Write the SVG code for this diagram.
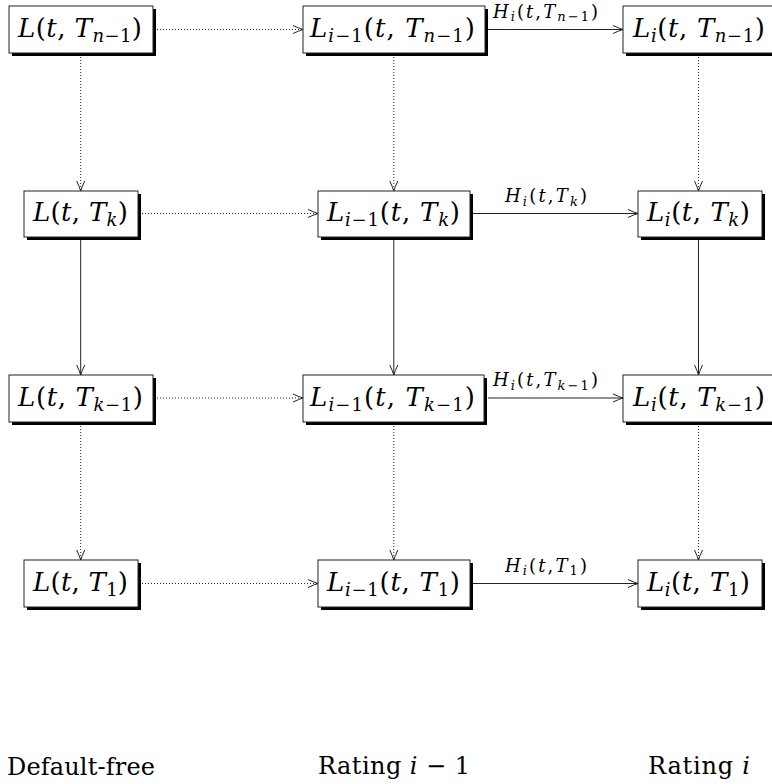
<svg xmlns="http://www.w3.org/2000/svg" width="772" height="784" viewBox="0 0 772 784">
<style>
.m{font-family:"DejaVu Serif","Liberation Serif",serif;font-size:26px;fill:#000}
.i{font-style:italic}
.s{font-size:18px}
.lab{font-size:18px}
.ls{font-size:13px}
.bl{font-size:24px}
.box{fill:#fff;stroke:#222;stroke-width:1}
.sh{fill:#000}
.solid{stroke:#222;stroke-width:1;fill:none}
.dot{stroke:#222;stroke-width:1;stroke-dasharray:1 2;fill:none}
</style>
<defs>
<marker id="ah" viewBox="-11 -5 12 10" refX="0" refY="0" markerWidth="12" markerHeight="10" orient="auto" markerUnits="userSpaceOnUse">
<path d="M-10,-4 Q-4,-1.2 0,0 Q-4,1.2 -10,4" fill="none" stroke="#222" stroke-width="1"/>
</marker>
</defs>

<g id="connectors">
<line class="dot" x1="157" y1="29.5" x2="303" y2="29.5" marker-end="url(#ah)"/>
<line class="solid" x1="488" y1="29.5" x2="623" y2="29.5" marker-end="url(#ah)"/>
<text class="m lab" x="493" y="17.5" textLength="105" lengthAdjust="spacing"><tspan class="i">H</tspan><tspan class="ls i" dy="3.5">i</tspan><tspan dy="-3.5">(</tspan><tspan class="i">t</tspan>,<tspan class="i">T</tspan><tspan class="ls" dy="3.5"><tspan class="i">n</tspan>−1</tspan><tspan dy="-3.5">)</tspan></text>

<line class="dot" x1="142" y1="213.5" x2="318" y2="213.5" marker-end="url(#ah)"/>
<line class="solid" x1="473" y1="213.5" x2="638" y2="213.5" marker-end="url(#ah)"/>
<text class="m lab" x="505" y="202" textLength="82" lengthAdjust="spacing"><tspan class="i">H</tspan><tspan class="ls i" dy="3.5">i</tspan><tspan dy="-3.5">(</tspan><tspan class="i">t</tspan>,<tspan class="i">T</tspan><tspan class="ls i" dy="3.5">k</tspan><tspan dy="-3.5">)</tspan></text>

<line class="dot" x1="157" y1="398" x2="303" y2="398" marker-end="url(#ah)"/>
<line class="solid" x1="488" y1="398" x2="623" y2="398" marker-end="url(#ah)"/>
<text class="m lab" x="493" y="386" textLength="105" lengthAdjust="spacing"><tspan class="i">H</tspan><tspan class="ls i" dy="3.5">i</tspan><tspan dy="-3.5">(</tspan><tspan class="i">t</tspan>,<tspan class="i">T</tspan><tspan class="ls" dy="3.5"><tspan class="i">k</tspan>−1</tspan><tspan dy="-3.5">)</tspan></text>

<line class="dot" x1="142" y1="583.5" x2="318" y2="583.5" marker-end="url(#ah)"/>
<line class="solid" x1="473" y1="583.5" x2="638" y2="583.5" marker-end="url(#ah)"/>
<text class="m lab" x="505" y="571.5" textLength="82" lengthAdjust="spacing"><tspan class="i">H</tspan><tspan class="ls i" dy="3.5">i</tspan><tspan dy="-3.5">(</tspan><tspan class="i">t</tspan>,<tspan class="i">T</tspan><tspan class="ls" dy="3.5">1</tspan><tspan dy="-3.5">)</tspan></text>

<line class="dot" x1="80.7" y1="57" x2="80.7" y2="191" marker-end="url(#ah)"/>
<line class="solid" x1="80.7" y1="237" x2="80.7" y2="375" marker-end="url(#ah)"/>
<line class="dot" x1="80.7" y1="426" x2="80.7" y2="560" marker-end="url(#ah)"/>
<line class="dot" x1="393.8" y1="57" x2="393.8" y2="191" marker-end="url(#ah)"/>
<line class="solid" x1="393.8" y1="237" x2="393.8" y2="375" marker-end="url(#ah)"/>
<line class="dot" x1="393.8" y1="426" x2="393.8" y2="560" marker-end="url(#ah)"/>
<line class="dot" x1="698.5" y1="57" x2="698.5" y2="191" marker-end="url(#ah)"/>
<line class="solid" x1="698.5" y1="237" x2="698.5" y2="375" marker-end="url(#ah)"/>
<line class="dot" x1="698.5" y1="426" x2="698.5" y2="560" marker-end="url(#ah)"/>
</g>

<g id="n-L-Tn1">
<rect class="sh" x="12" y="9" width="144" height="47"/>
<rect class="box" x="9" y="6" width="144" height="47"/>
<text class="m" x="18" y="37" textLength="124" lengthAdjust="spacing"><tspan class="i">L</tspan>(<tspan class="i">t</tspan>, <tspan class="i">T</tspan><tspan class="s" dy="5"><tspan class="i">n</tspan>−1</tspan><tspan dy="-5">)</tspan></text>
</g>
<g id="n-Li1-Tn1">
<rect class="sh" x="306" y="9" width="182" height="47"/>
<rect class="box" x="303" y="6" width="182" height="47"/>
<text class="m" x="310" y="37" textLength="165" lengthAdjust="spacing"><tspan class="i">L</tspan><tspan class="s" dy="5"><tspan class="i">i</tspan>−1</tspan><tspan dy="-5">(</tspan><tspan class="i">t</tspan>, <tspan class="i">T</tspan><tspan class="s" dy="5"><tspan class="i">n</tspan>−1</tspan><tspan dy="-5">)</tspan></text>
</g>
<g id="n-Li-Tn1">
<rect class="sh" x="626" y="9" width="152" height="47"/>
<rect class="box" x="623" y="6" width="152" height="47"/>
<text class="m" x="633" y="37" textLength="132" lengthAdjust="spacing"><tspan class="i">L</tspan><tspan class="s i" dy="5">i</tspan><tspan dy="-5">(</tspan><tspan class="i">t</tspan>, <tspan class="i">T</tspan><tspan class="s" dy="5"><tspan class="i">n</tspan>−1</tspan><tspan dy="-5">)</tspan></text>
</g>

<g id="n-L-Tk">
<rect class="sh" x="27" y="194" width="114" height="46"/>
<rect class="box" x="24" y="191" width="114" height="46"/>
<text class="m" x="33" y="221" textLength="95" lengthAdjust="spacing"><tspan class="i">L</tspan>(<tspan class="i">t</tspan>, <tspan class="i">T</tspan><tspan class="s i" dy="5">k</tspan><tspan dy="-5">)</tspan></text>
</g>
<g id="n-Li1-Tk">
<rect class="sh" x="321" y="194" width="152" height="46"/>
<rect class="box" x="318" y="191" width="152" height="46"/>
<text class="m" x="327" y="221" textLength="133" lengthAdjust="spacing"><tspan class="i">L</tspan><tspan class="s" dy="5"><tspan class="i">i</tspan>−1</tspan><tspan dy="-5">(</tspan><tspan class="i">t</tspan>, <tspan class="i">T</tspan><tspan class="s i" dy="5">k</tspan><tspan dy="-5">)</tspan></text>
</g>
<g id="n-Li-Tk">
<rect class="sh" x="641" y="194" width="124" height="46"/>
<rect class="box" x="638" y="191" width="124" height="46"/>
<text class="m" x="647" y="221" textLength="103" lengthAdjust="spacing"><tspan class="i">L</tspan><tspan class="s i" dy="5">i</tspan><tspan dy="-5">(</tspan><tspan class="i">t</tspan>, <tspan class="i">T</tspan><tspan class="s i" dy="5">k</tspan><tspan dy="-5">)</tspan></text>
</g>

<g id="n-L-Tk1">
<rect class="sh" x="12" y="378" width="144" height="47"/>
<rect class="box" x="9" y="375" width="144" height="47"/>
<text class="m" x="18" y="406" textLength="125" lengthAdjust="spacing"><tspan class="i">L</tspan>(<tspan class="i">t</tspan>, <tspan class="i">T</tspan><tspan class="s" dy="5"><tspan class="i">k</tspan>−1</tspan><tspan dy="-5">)</tspan></text>
</g>
<g id="n-Li1-Tk1">
<rect class="sh" x="306" y="378" width="181" height="47"/>
<rect class="box" x="303" y="375" width="181" height="47"/>
<text class="m" x="310" y="406" textLength="165" lengthAdjust="spacing"><tspan class="i">L</tspan><tspan class="s" dy="5"><tspan class="i">i</tspan>−1</tspan><tspan dy="-5">(</tspan><tspan class="i">t</tspan>, <tspan class="i">T</tspan><tspan class="s" dy="5"><tspan class="i">k</tspan>−1</tspan><tspan dy="-5">)</tspan></text>
</g>
<g id="n-Li-Tk1">
<rect class="sh" x="626" y="378" width="152" height="47"/>
<rect class="box" x="623" y="375" width="152" height="47"/>
<text class="m" x="633" y="406" textLength="132" lengthAdjust="spacing"><tspan class="i">L</tspan><tspan class="s i" dy="5">i</tspan><tspan dy="-5">(</tspan><tspan class="i">t</tspan>, <tspan class="i">T</tspan><tspan class="s" dy="5"><tspan class="i">k</tspan>−1</tspan><tspan dy="-5">)</tspan></text>
</g>

<g id="n-L-T1">
<rect class="sh" x="27" y="563" width="114" height="47"/>
<rect class="box" x="24" y="560" width="114" height="47"/>
<text class="m" x="33" y="591" textLength="95" lengthAdjust="spacing"><tspan class="i">L</tspan>(<tspan class="i">t</tspan>, <tspan class="i">T</tspan><tspan class="s" dy="5">1</tspan><tspan dy="-5">)</tspan></text>
</g>
<g id="n-Li1-T1">
<rect class="sh" x="321" y="563" width="152" height="47"/>
<rect class="box" x="318" y="560" width="152" height="47"/>
<text class="m" x="327" y="591" textLength="133" lengthAdjust="spacing"><tspan class="i">L</tspan><tspan class="s" dy="5"><tspan class="i">i</tspan>−1</tspan><tspan dy="-5">(</tspan><tspan class="i">t</tspan>, <tspan class="i">T</tspan><tspan class="s" dy="5">1</tspan><tspan dy="-5">)</tspan></text>
</g>
<g id="n-Li-T1">
<rect class="sh" x="641" y="563" width="124" height="47"/>
<rect class="box" x="638" y="560" width="124" height="47"/>
<text class="m" x="647" y="591" textLength="103" lengthAdjust="spacing"><tspan class="i">L</tspan><tspan class="s i" dy="5">i</tspan><tspan dy="-5">(</tspan><tspan class="i">t</tspan>, <tspan class="i">T</tspan><tspan class="s" dy="5">1</tspan><tspan dy="-5">)</tspan></text>
</g>

<g id="col-labels">
<text class="m bl" x="7" y="775" textLength="148" lengthAdjust="spacing">Default-free</text>
<text class="m bl" x="318" y="774" textLength="152" lengthAdjust="spacing">Rating <tspan class="i">i</tspan> − 1</text>
<text class="m bl" x="648" y="774" textLength="102" lengthAdjust="spacing">Rating <tspan class="i">i</tspan></text>
</g>
</svg>
